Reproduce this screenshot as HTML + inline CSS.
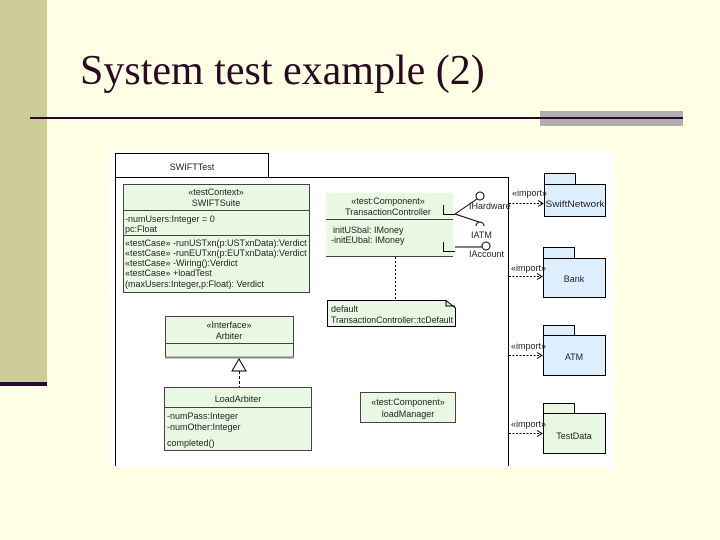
<!DOCTYPE html>
<html><head><meta charset="utf-8"><style>
body{margin:0;width:720px;height:540px;background:#FFFFE5;position:relative;overflow:hidden}
.t{font-family:"Liberation Sans",sans-serif;font-size:9px;fill:#222}
</style></head><body>
<svg width="720" height="540" style="position:absolute;left:0;top:0">
<rect x="0" y="0" width="720" height="540" fill="#FFFFE5"/>
<rect x="0" y="0" width="47" height="383" fill="#CCCC99"/>
<rect x="0" y="382" width="47" height="4" fill="#2A0A2A"/>
<text x="80" y="84" font-family="Liberation Serif,serif" font-size="42" fill="#2A0A22">System test example (2)</text>
<rect x="540" y="111" width="143" height="15" fill="#B0AEB0"/>
<rect x="30" y="117" width="653" height="2" fill="#2A0A22"/>
<rect x="110" y="150" width="504" height="318" fill="#FFFFFF"/>
<g stroke="#000" stroke-width="1" fill="none">
<path d="M115.5 466V153.5H268.5V177.5"/>
<path d="M115.5 177.5H508.5V466"/>
</g>
<text class="t" x="192" y="170" text-anchor="middle" font-size="12">SWIFTTest</text>
<!-- SWIFTSuite -->
<rect x="123.5" y="184.5" width="186" height="108" fill="#E8F8E2" stroke="#444"/>
<line x1="123" y1="210.5" x2="310" y2="210.5" stroke="#444"/>
<line x1="123" y1="235.5" x2="310" y2="235.5" stroke="#444"/>
<text class="t" x="216" y="195" text-anchor="middle" font-size="8">«testContext»</text>
<text class="t" x="216" y="206" text-anchor="middle" font-size="9.5">SWIFTSuite</text>
<text class="t" x="125" y="222" font-size="9">-numUsers:Integer = 0</text>
<text class="t" x="125" y="232" font-size="9">pc:Float</text>
<text class="t" x="125" y="246" font-size="8.2">«testCase» -runUSTxn(p:USTxnData):Verdict</text>
<text class="t" x="125" y="256" font-size="8.2">«testCase» -runEUTxn(p:EUTxnData):Verdict</text>
<text class="t" x="125" y="266" font-size="8.2">«testCase» -Wiring():Verdict</text>
<text class="t" x="125" y="276" font-size="8.2">«testCase» +loadTest</text>
<text class="t" x="125" y="287" font-size="8.2">(maxUsers:Integer,p:Float): Verdict</text>
<!-- TransactionController -->
<rect x="326" y="193" width="127" height="63" fill="#E8F8E2"/>
<line x1="326" y1="219.5" x2="453" y2="219.5" stroke="#444"/>
<line x1="326" y1="256.5" x2="453" y2="256.5" stroke="#444"/>
<text class="t" x="388" y="204" text-anchor="middle" font-size="8.5">«test:Component»</text>
<text class="t" x="388" y="215" text-anchor="middle" font-size="9.5">TransactionController</text>
<text class="t" x="333" y="233">initUSbal: IMoney</text>
<text class="t" x="331" y="243">-initEUbal: IMoney</text>
<g stroke="#000" fill="none">
<path d="M443.5 205V214.5H455"/>
<path d="M443.5 242V251.5H455"/>
<path d="M455 214L477 199M455 214L479 222M455 247H482"/>
<circle cx="480" cy="196" r="4" fill="#fff"/>
<path d="M476 226A4 4 0 0 1 484 226"/>
<circle cx="486" cy="246" r="4" fill="#fff"/>
</g>
<text class="t" x="469" y="209" font-size="8">IHardware</text>
<text class="t" x="471" y="238" font-size="8">IATM</text>
<text class="t" x="469" y="257" font-size="7.5">IAccount</text>
<line x1="395.5" y1="257" x2="395.5" y2="300" stroke="#000" stroke-dasharray="2,2"/>
<path d="M327.5 300.5H446L455.5 308V326.5H327.5Z" fill="#E8F8E2" stroke="#000"/>
<path d="M446 300.5V306H455" fill="none" stroke="#000"/>
<text class="t" x="331" y="312" font-size="9.5">default</text>
<text class="t" x="331" y="323" font-size="9.5" textLength="122" lengthAdjust="spacingAndGlyphs">TransactionController::tcDefault</text>
<!-- Arbiter -->
<rect x="165.5" y="316.5" width="128" height="41" fill="#E8F8E2" stroke="#444"/>
<line x1="165" y1="343.5" x2="293" y2="343.5" stroke="#444"/>
<line x1="165" y1="357.5" x2="294" y2="357.5" stroke="#888" stroke-width="2"/>
<text class="t" x="229" y="328" text-anchor="middle" font-size="8.5">«Interface»</text>
<text class="t" x="229" y="339" text-anchor="middle" font-size="9.5">Arbiter</text>
<path d="M239 359L232 371H246Z" fill="#fff" stroke="#000"/>
<line x1="239.5" y1="371" x2="239.5" y2="387" stroke="#000" stroke-dasharray="3,2"/>
<!-- LoadArbiter -->
<rect x="164.5" y="387.5" width="147" height="63" fill="#E8F8E2" stroke="#444"/>
<line x1="164" y1="407.5" x2="311" y2="407.5" stroke="#444"/>
<text class="t" x="238" y="402" text-anchor="middle" font-size="10">LoadArbiter</text>
<text class="t" x="167" y="419">-numPass:Integer</text>
<text class="t" x="167" y="430">-numOther:Integer</text>
<text class="t" x="167" y="446">completed()</text>
<!-- loadManager -->
<rect x="360.5" y="392.5" width="95" height="30" fill="#E8F8E2" stroke="#444"/>
<text class="t" x="408" y="405" text-anchor="middle" font-size="8.5">«test:Component»</text>
<text class="t" x="408" y="417" text-anchor="middle" font-size="9.5">loadManager</text>
<!-- packages -->
<g fill="#DDEEFF" stroke="#000">
<rect x="544.5" y="173.5" width="31" height="11"/><rect x="544.5" y="184.5" width="61" height="32"/>
<rect x="543.5" y="247.5" width="31" height="11"/><rect x="543.5" y="258.5" width="62" height="39"/>
<rect x="543.5" y="325.5" width="31" height="10"/><rect x="543.5" y="335.5" width="62" height="40"/>
</g>
<g fill="#E8F8E2" stroke="#000">
<rect x="543.5" y="403.5" width="31" height="10"/><rect x="543.5" y="413.5" width="62" height="40"/>
</g>
<text class="t" x="575" y="207" text-anchor="middle" font-size="10.5" textLength="59" lengthAdjust="spacingAndGlyphs">SwiftNetwork</text>
<text class="t" x="574" y="282" text-anchor="middle" font-size="10.5">Bank</text>
<text class="t" x="574" y="360" text-anchor="middle" font-size="10.5">ATM</text>
<text class="t" x="574" y="439" text-anchor="middle" font-size="10.5">TestData</text>
<g stroke="#000" fill="none" stroke-dasharray="2,1.5">
<line x1="509" y1="203.5" x2="542" y2="203.5"/>
<line x1="509" y1="276.5" x2="541" y2="276.5"/>
<line x1="509" y1="355.5" x2="541" y2="355.5"/>
<line x1="509" y1="433.5" x2="541" y2="433.5"/>
</g>
<g stroke="#000" fill="none">
<path d="M538 200.5L543 203.5L538 206.5"/>
<path d="M537 273.5L542 276.5L537 279.5"/>
<path d="M537 352.5L542 355.5L537 358.5"/>
<path d="M537 430.5L542 433.5L537 436.5"/>
</g>
<text class="t" x="512" y="196" font-size="6.5">«import»</text>
<text class="t" x="511" y="271" font-size="6.5">«import»</text>
<text class="t" x="511" y="349" font-size="6.5">«import»</text>
<text class="t" x="511" y="427" font-size="6.5">«import»</text>
</svg>
</body></html>
